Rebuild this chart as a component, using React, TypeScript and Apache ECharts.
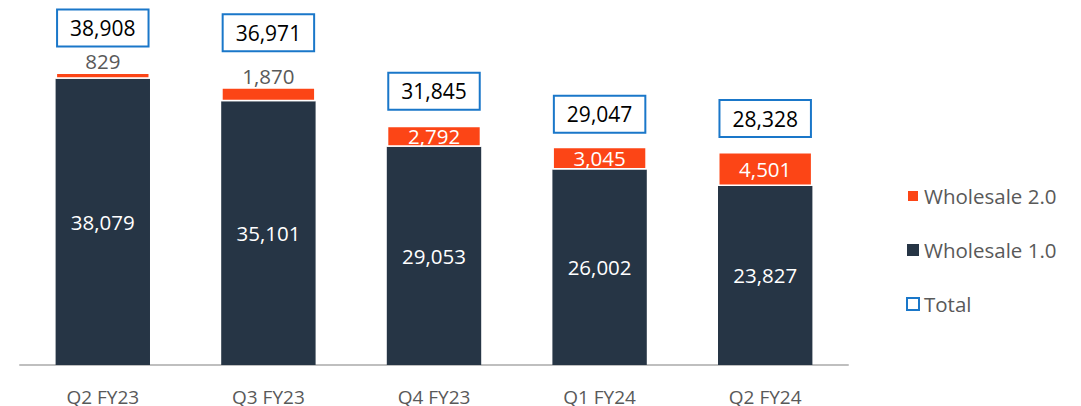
import React, { useEffect, useRef } from "react";
import * as echarts from "echarts";

const categories = ["Q2 FY23", "Q3 FY23", "Q4 FY23", "Q1 FY24", "Q2 FY24"];
const wholesale1 = [38079, 35101, 29053, 26002, 23827];
const wholesale2 = [829, 1870, 2792, 3045, 4501];
const totals = [38908, 36971, 31845, 29047, 28328];
const totalLabelGap = [27, 37, 17, 15, 16];
const w2OutsideLabel = [true, true, false, false, false];

const ORANGE = "#fc4516";
const NAVY = "#263545";
const BLUE = "#1a77c9";
const GRAY = "#595959";
const FONT = "Open Sans";

export default function App() {
  const ref = useRef<HTMLDivElement>(null);
  useEffect(() => {
    if (!ref.current) return;
    const chart = echarts.init(ref.current, null, { renderer: "svg" });
    chart.setOption({
      animation: false,
      textStyle: { fontFamily: FONT },
      grid: { left: 20, width: 828, top: 26.8, height: 339.2 },
      legend: {
        orient: "vertical",
        left: 901,
        top: 180,
        itemWidth: 12,
        itemHeight: 12,
        itemGap: 32,
        textStyle: { fontFamily: FONT, fontSize: 20.5, lineHeight: 22, color: GRAY },
        data: [
          { name: "Wholesale 2.0", icon: "rect" },
          { name: "Wholesale 1.0", icon: "rect" },
          {
            name: "Total",
            icon: "rect",
            itemStyle: { color: "#ffffff", borderColor: BLUE, borderWidth: 2 },
          },
        ],
      },
      xAxis: {
        type: "category",
        data: categories,
        axisLine: { lineStyle: { color: "#bfbfbf", width: 2 } },
        axisTick: { show: false },
        axisLabel: { color: GRAY, fontSize: 19, fontFamily: FONT, margin: 22 },
      },
      yAxis: { type: "value", min: 0, max: 45000, show: false, splitLine: { show: false } },
      series: [
        {
          name: "Wholesale 1.0",
          type: "bar",
          stack: "w",
          barWidth: "57%",
          itemStyle: { color: NAVY },
          label: {
            show: true,
            position: "inside",
            color: "#ffffff",
            fontSize: 20.5,
            fontFamily: FONT,
            formatter: (p: any) => Number(p.value).toLocaleString("en-US"),
          },
          data: wholesale1,
        },
        {
          name: "Wholesale 2.0",
          type: "bar",
          stack: "w",
          barWidth: "57%",
          itemStyle: { color: ORANGE, borderColor: "#ffffff", borderWidth: 1.5 },
          label: {
            show: true,
            fontSize: 20.5,
            fontFamily: FONT,
            formatter: (p: any) => Number(p.value).toLocaleString("en-US"),
          },
          data: wholesale2.map((v, i) => ({
            value: v,
            label: w2OutsideLabel[i]
              ? { position: "top", distance: 1, color: GRAY }
              : { position: "inside", color: "#ffffff" },
          })),
        },
        {
          name: "Total",
          type: "bar",
          barWidth: "57%",
          barGap: "-100%",
          itemStyle: { color: "rgba(0,0,0,0)" },
          z: 1,
          label: {
            show: true,
            position: "top",
            color: "#000000",
            fontSize: 21,
            fontFamily: FONT,
            backgroundColor: "#ffffff",
            borderColor: BLUE,
            borderWidth: 2,
            padding: [7, 12, 7, 12],
            formatter: (p: any) => Number(p.value).toLocaleString("en-US"),
          },
          data: totals.map((v, i) => ({ value: v, label: { distance: totalLabelGap[i] } })),
        },
      ],
    });
    return () => chart.dispose();
  }, []);
  return (
    <div
      ref={ref}
      style={{ position: "fixed", left: 0, top: 0, width: 1081, height: 406, background: "#fff" }}
    />
  );
}
